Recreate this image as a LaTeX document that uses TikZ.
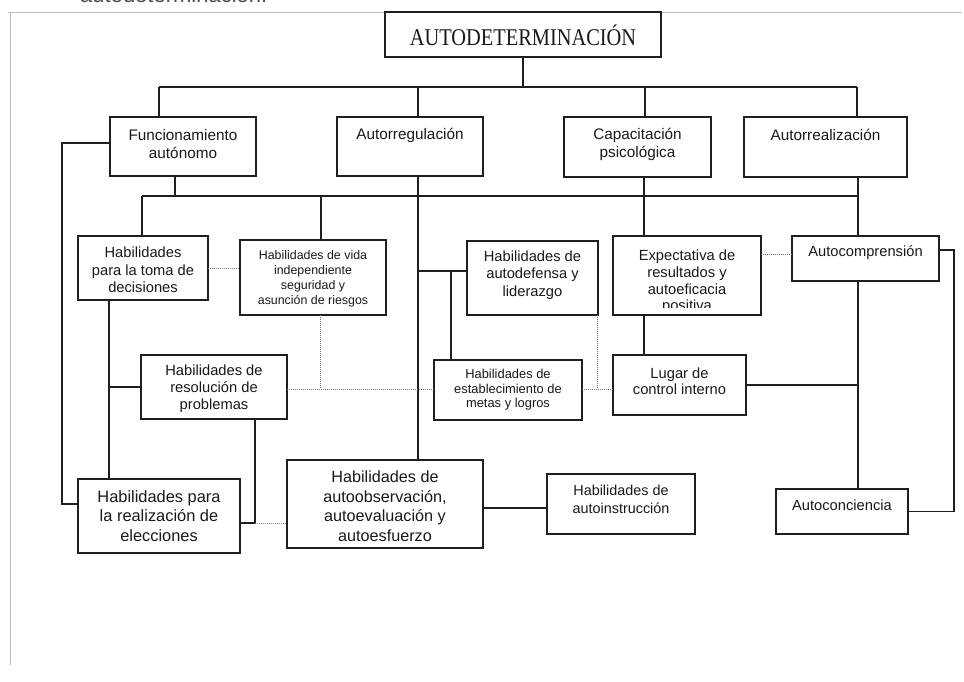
\documentclass[tikz,border=0pt]{standalone}
\usepackage{fontspec}
\setmainfont{Liberation Sans}
\newfontfamily\titlefont[FakeStretch=0.85]{Liberation Serif}
\begin{document}
\begin{tikzpicture}[x=1pt,y=-1pt,
  bx/.style={draw=black!88,line width=1.3pt,inner sep=0pt,outer sep=0pt,fill=white},
  txt/.style={align=center,inner sep=0pt,text=black!90},
  ln/.style={draw=black!88,line width=1.4pt},
  dl/.style={draw=black!55,line width=1pt,densely dotted},
  fr/.style={draw=black!25,line width=0.8pt}]
\useasboundingbox (0,0) rectangle (964,682);
\newcommand\mkbox[9]{%
  \node[bx,minimum width={(#4-#2)*1pt},minimum height={(#5-#3)*1pt}] (#1) at ({(#2+#4)/2},{(#3+#5)/2}) {};
  \node[txt,font=\fontsize{#7}{#8}\selectfont] (#1-t) at ({(#2+#4)/2},#6) {#9};}
% frame
\coordinate (frA) at (8,12);
\coordinate (frB) at (962,12);
\coordinate (frC) at (10,12);
\coordinate (frD) at (10,665);
\draw[fr] (frA) -- (frB);
\draw[fr] (frC) -- (frD);
\node[anchor=base west,inner sep=0pt,text=black!70,font=\fontsize{22}{22}\selectfont] (toptxt) at (80,3) {autodeterminación.};
% bus coordinates
\coordinate (b0L) at (159,87);
\coordinate (b0R) at (857,87);
\coordinate (b0a) at (418,87);
\coordinate (b0c) at (645,87);
\coordinate (b1L) at (142,196);
\coordinate (b1R) at (858,196);
\coordinate (b1f) at (175,196);
\coordinate (b1v) at (321,196);
% connectors level 0-1
\node[bx,minimum width=276pt,minimum height=45pt] (autod) at (523,34.5) {};
\node[txt,font=\titlefont\fontsize{24}{24}\selectfont] (autod-t) at (523,35) {AUTODETERMINACIÓN};
\draw[ln] (autod.south) -- (autod.south |- b0L);
\draw[ln] (b0L) -- (b0R);
\mkbox{fa}{110}{117}{256}{176}{144}{15.3}{18}{Funcionamiento\\autónomo}
\mkbox{ar}{337}{117}{483}{176}{135}{15.3}{18}{Autorregulación}
\mkbox{cp}{564}{117}{711}{177}{144}{15.3}{18}{Capacitación\\psicológica}
\mkbox{arz}{744}{117}{907}{177}{135}{15.3}{18}{Autorrealización}
\draw[ln] (b0L) -- (b0L |- fa.north);
\draw[ln] (b0a) -- (b0a |- ar.north);
\draw[ln] (b0c) -- (b0c |- cp.north);
\draw[ln] (b0R) -- (b0R |- arz.north);
% level 2 boxes
\mkbox{td}{78}{236}{208}{300}{270}{14.7}{17.5}{Habilidades\\para la toma de\\decisiones}
\mkbox{vida}{240}{240}{386}{315}{278.5}{12.4}{15}{Habilidades de vida\\independiente\\seguridad y\\asunción de riesgos}
\mkbox{ad}{467}{241}{598}{315}{275}{14.7}{17.5}{Habilidades de\\autodefensa y\\liderazgo}
\node[bx,minimum width=148pt,minimum height=79pt] (ex) at (687,275.5) {};
\begin{scope}
  \clip (614,237) rectangle (760,307.5);
  \node[txt,font=\fontsize{14.7}{16.7}\selectfont] (ex-t) at (687,282) {Expectativa de\\resultados y\\autoeficacia\\positiva};
\end{scope}
\mkbox{ac}{792}{236}{939}{281}{253}{14.7}{17}{Autocomprensión}
\mkbox{res}{141}{355}{287}{419}{389}{14.7}{17}{Habilidades de\\resolución de\\problemas}
\mkbox{metas}{434}{360}{582}{420}{390}{12.9}{14.5}{Habilidades de\\establecimiento de\\metas y logros}
\mkbox{lugar}{613}{355}{746}{415}{381}{14.7}{15.5}{Lugar de\\control interno}
\mkbox{real}{78}{479}{240}{553}{516}{16.4}{19.8}{Habilidades para\\la realización de\\elecciones}
\mkbox{ao}{287}{460}{483}{548}{506}{16.2}{19.5}{Habilidades de\\autoobservación,\\autoevaluación y\\autoesfuerzo}
\mkbox{ai}{547}{474}{695}{534}{499}{14.4}{17.7}{Habilidades de\\autoinstrucción}
\mkbox{aco}{776}{489}{908}{534}{505}{14.7}{17}{Autoconciencia}
% level 1-2 solid connectors
\coordinate (fs) at (175,176);
\draw[ln] (fs) -- (b1f);
\draw[ln] (b1L) -- (b1R);
\draw[ln] (b1L) -- (b1L |- td.north);
\draw[ln] (b1v) -- (b1v |- vida.north);
\coordinate (arS) at (418,176);
\draw[ln] (arS) -- (arS |- ao.north);
\coordinate (adJ) at (418,271);
\coordinate (mtJ) at (451,271);
\draw[ln] (adJ) -- (adJ -| ad.west);
\draw[ln] (mtJ) -- (mtJ |- metas.north);
\coordinate (cpS) at (644,177);
\draw[ln] (cpS) -- (cpS |- ex.north);
\coordinate (exS) at (644,315);
\draw[ln] (exS) -- (exS |- lugar.north);
\draw[ln] (arz.south) ++(-1.5,0) coordinate (arzS);
\coordinate (arzS) at (858,177);
\draw[ln] (arzS) -- (arzS |- ac.north);
\coordinate (acS) at (858,281);
\draw[ln] (acS) -- (acS |- aco.north);
\draw[ln] (lugar.east) -- (lugar.east -| acS);
\coordinate (acE) at (954,250);
\draw[ln] (ac.east |- acE) -- (acE) -- (acE |- aco.east) -- (aco.east);
\coordinate (tdS) at (109,300);
\draw[ln] (tdS) -- (tdS |- real.north);
\draw[ln] (res.west) -- (res.west -| tdS);
\coordinate (resS) at (255,419);
\coordinate (resE) at (255,523);
\draw[ln] (resS) -- (resE) -- (resE -| real.east);
\coordinate (faW) at (62,143);
\coordinate (faL) at (62,504);
\draw[ln] (fa.west |- faW) -- (faW) -- (faL) -- (faL -| real.west);
\coordinate (aoE) at (483,508);
\draw[ln] (aoE) -- (aoE -| ai.west);
% dotted connectors
\draw[dl] (td.east) -- (td.east -| vida.west);
\draw[dl] (ex.east |- 0,254) -- (ac.west |- 0,254);
\coordinate (vdS) at (320,315);
\coordinate (vdJ) at (320,389);
\draw[dl] (vdS) -- (vdJ);
\draw[dl] (res.east |- vdJ) -- (metas.west |- vdJ);
\coordinate (adS) at (597,315);
\coordinate (adJ2) at (597,389);
\draw[dl] (adS) -- (adJ2);
\draw[dl] (metas.east |- adJ2) -- (lugar.west |- adJ2);
\draw[dl] (resE) -- (resE -| ao.west);
\end{tikzpicture}
\end{document}
